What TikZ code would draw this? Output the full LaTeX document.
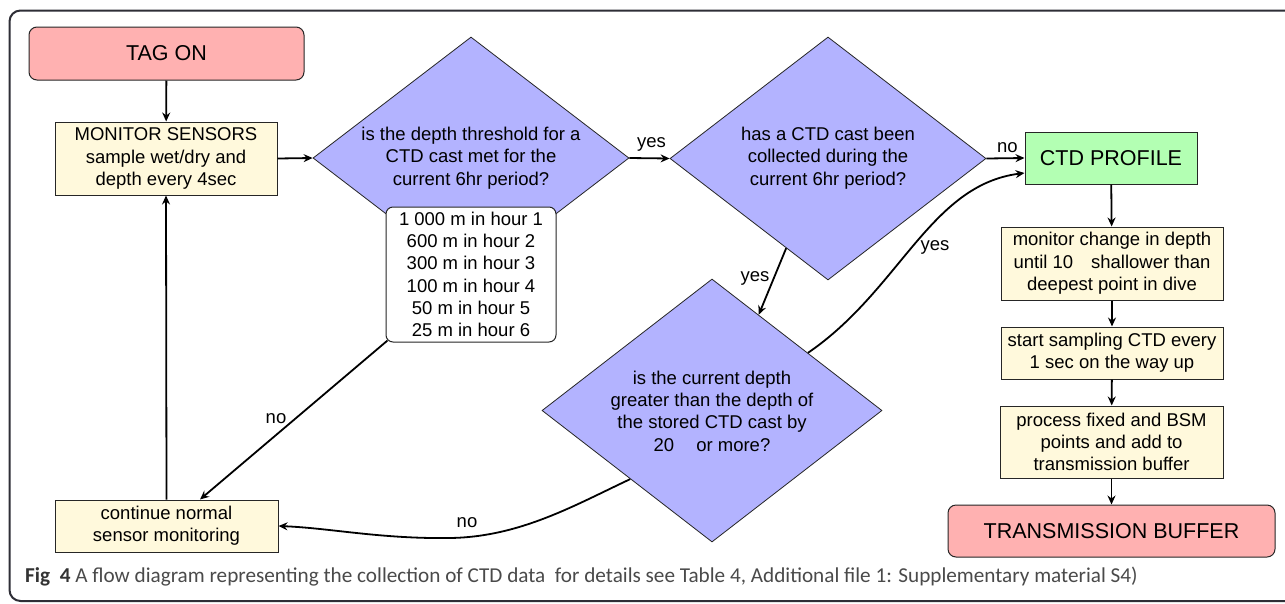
\documentclass[tikz,border=0pt]{standalone}
\usepackage{fontspec}
\setmainfont{Liberation Sans}
\newfontfamily\capfont{Carlito}
\usetikzlibrary{shapes.geometric,arrows.meta}
\definecolor{pinkf}{HTML}{FFB1B1}
\definecolor{yellowf}{HTML}{FFF9DC}
\definecolor{bluef}{HTML}{B3B3FF}
\definecolor{greenf}{HTML}{B3FFB3}
\definecolor{framec}{HTML}{2E2E36}
\definecolor{capgrey}{HTML}{4A4A4A}
\newcommand\mytxt{\fontsize{18.5}{22.3}\selectfont}
\newcommand\mybig{\fontsize{21.5}{24}\selectfont}
\begin{document}
\begin{tikzpicture}[x=1pt,y=-1pt,
  box/.style={draw=black!85, line width=1pt, fill=yellowf, inner sep=0, align=center, font=\mytxt},
  rbox/.style={box, rounded corners=7pt},
  bigbox/.style={draw=black!85, line width=1pt, inner sep=0, font=\mybig},
  dia/.style={diamond, draw=black!85, line width=0.8pt, fill=bluef, inner sep=0},
  txt/.style={inner sep=0, align=center, font=\mytxt},
  lbl/.style={inner sep=0, font=\mytxt},
  arr/.style={line width=1.8pt, -{Stealth[length=9pt,width=8pt,inset=3pt]}},
  framestyle/.style={draw=framec, line width=2pt, rounded corners=11pt}]
\useasboundingbox (0,0) rectangle (1285,603);
\clip (0,0) rectangle (1285,603);
\fill[white] (0,0) rectangle (1285,603);
\draw[framestyle] (9.5,10.5) rectangle (1320,601);

% nodes
\node[bigbox, fill=pinkf, rounded corners=8pt, minimum width=275pt, minimum height=53pt] (tag) at (166.5,53.5) {TAG ON};
\node[box, minimum width=222pt, minimum height=73pt] (mon) at (166,158.5) {MONITOR SENSORS\\sample wet/dry and\\depth every 4sec};
\node[box, minimum width=223pt, minimum height=52pt] (cont) at (166.5,526) {continue normal\\sensor monitoring};

\node[dia, minimum width=316pt, minimum height=242pt] (d1) at (471,158) {};
\node[txt] (d1t) at (471,158) {is the depth threshold for a\\CTD cast met for the\\current 6hr period?};
\node[rbox, fill=white, minimum width=170pt, minimum height=135pt] (thr) at (471,274.5) {1 000 m in hour 1\\600 m in hour 2\\300 m in hour 3\\100 m in hour 4\\50 m in hour 5\\25 m in hour 6};

\node[dia, minimum width=316pt, minimum height=243pt] (d2) at (828,158.5) {};
\node[txt] (d2t) at (828,158) {has a CTD cast been\\collected during the\\current 6hr period?};

\node[dia, minimum width=340pt, minimum height=263pt] (d3) at (712,410.5) {};
\node[txt] (d3t) at (712,411) {is the current depth\\greater than the depth of\\the stored CTD cast by\\20\hspace{22pt}or more?};

\node[bigbox, fill=greenf, minimum width=172pt, minimum height=52pt] (ctd) at (1111,158) {CTD PROFILE};
\node[box, minimum width=222pt, minimum height=73pt] (mcd) at (1112,263.5) {monitor change in depth\\until 10\hspace{18pt}shallower than\\deepest point in dive};
\node[box, minimum width=222pt, minimum height=52pt] (ss) at (1112,353) {start sampling CTD every\\1 sec on the way up};
\node[box, minimum width=223pt, minimum height=72pt] (pf) at (1111.5,442) {process fixed and BSM\\points and add to\\transmission buffer};
\node[bigbox, fill=pinkf, rounded corners=8pt, minimum width=327pt, minimum height=52pt] (tb) at (1111.5,531) {TRANSMISSION BUFFER};

% connectors
\draw[arr] (tag) -- (mon);
\draw[arr] (mon.east) -- (d1.west);
\draw[arr] (d1.east) -- node[lbl, above=6pt, pos=0.55] (l1) {yes} (d2.west);
\draw[arr] (d2.east) -- node[lbl, above=5pt, pos=0.55] (l2) {no} (ctd.west);
\draw[arr] (thr.south west) ++(2,-2) coordinate (thrc) (thrc) -- (cont.north -| 200,0);
\node[lbl] (l3) at (276,419) {no};
\draw[arr] (cont.north) -- (mon.south);
\draw[arr] (d2.245) -- (d3.64);
\node[lbl] (l4) at (755,278) {yes};
\draw[arr] (d3.31) .. controls (900,290) and (930,185) .. ([yshift=-15pt]ctd.west);
\node[lbl] (l5) at (935,247) {yes};
\draw[arr] (d3.220) .. controls (575,505) and (520,537) .. (450,538) .. controls (380,539) and (330,528) .. (cont.east);
\node[lbl] (l6) at (467,523) {no};
\draw[arr] (ctd) -- (mcd);
\draw[arr] (mcd) -- (ss);
\draw[arr] (ss) -- (pf);
\draw[arr] (pf) -- (tb);

% caption
\node[anchor=base west, inner sep=0, font=\capfont\fontsize{21.2}{21.5}\selectfont, text=capgrey] (cap) at (25,582) {\textbf{\color{black!80}Fig\ \ 4} A flow diagram representing the collection of CTD data\ \ for details see Table 4, Additional file 1: Supplementary material S4)};
\end{tikzpicture}
\end{document}
